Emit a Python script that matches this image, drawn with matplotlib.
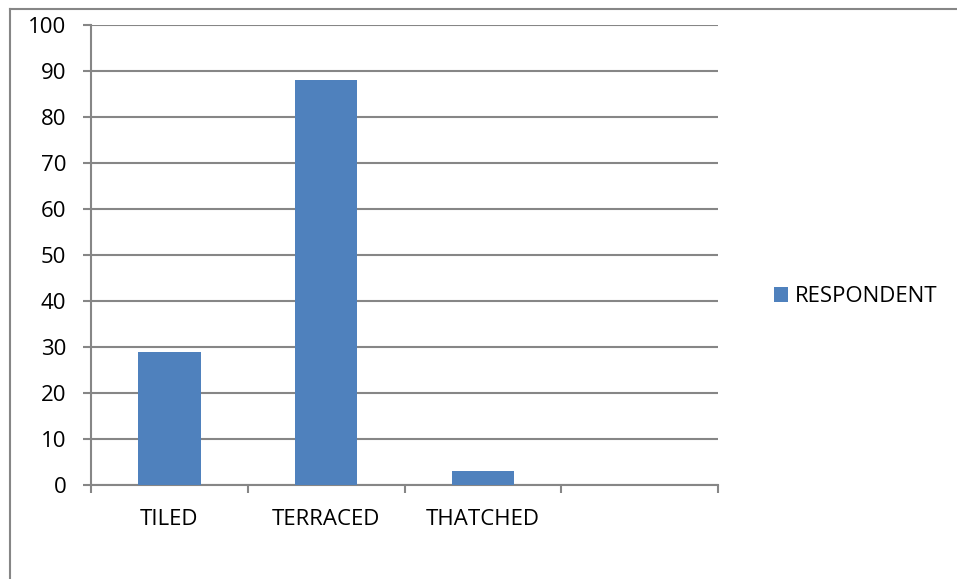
import matplotlib.pyplot as plt
from matplotlib.lines import Line2D
from matplotlib.patches import Patch

# data
categories = ["TILED", "TERRACED", "THATCHED"]
respondents = [29, 88, 3]
y_ticks = [0, 10, 20, 30, 40, 50, 60, 70, 80, 90, 100]
series_name = "RESPONDENT"

n_slots = 4  # excel left an empty fourth category slot
bar_color = "#4F81BD"
grid_color = "#868686"
font_size = 16

plt.rcParams["font.family"] = ["Open Sans", "DejaVu Sans"]

fig = plt.figure(figsize=(9.57, 5.79), dpi=100)
ax = fig.add_axes([91 / 957, 1 - 485 / 579, (718 - 91) / 957, (485 - 25) / 579])

x = list(range(len(categories)))
ax.bar(x, respondents, width=0.4, color=bar_color, zorder=3)

ax.set_xlim(-0.5, n_slots - 0.5)
ax.set_ylim(0, 100)
ax.set_yticks(y_ticks)
ax.yaxis.grid(True, color=grid_color, linewidth=1.5, zorder=0)

# category boundaries carry the ticks, labels sit at slot centres
ax.set_xticks([i - 0.5 for i in range(n_slots + 1)])
ax.set_xticklabels([])
ax.set_xticks(x, minor=True)
ax.set_xticklabels(categories, minor=True)
ax.tick_params(axis="x", which="major", direction="out", length=5.8, width=1.5, color=grid_color)
ax.tick_params(axis="x", which="minor", length=0, pad=17, labelsize=font_size)
ax.tick_params(axis="y", direction="out", length=5.8, width=1.5, color=grid_color,
               labelsize=font_size, pad=12)

for side in ["top", "right"]:
    ax.spines[side].set_visible(False)
for side in ["left", "bottom"]:
    ax.spines[side].set_color(grid_color)
    ax.spines[side].set_linewidth(1.5)

handles = [Patch(facecolor=bar_color, label=series_name)]
fig.legend(handles=handles, loc="center left", bbox_to_anchor=(774 / 957, 1 - 297 / 579),
           frameon=False, fontsize=font_size, handlelength=0.65, handleheight=0.65,
           handletextpad=0.3, borderaxespad=0, borderpad=0)

# chart area border (only top and left survive the crop)
fig.add_artist(Line2D([10 / 957, 10 / 957], [0, 1 - 9 / 579], transform=fig.transFigure,
                      color=grid_color, linewidth=1.5))
fig.add_artist(Line2D([10 / 957, 1], [1 - 9 / 579, 1 - 9 / 579], transform=fig.transFigure,
                      color=grid_color, linewidth=1.5))

fig.savefig("out.png", dpi=100)
